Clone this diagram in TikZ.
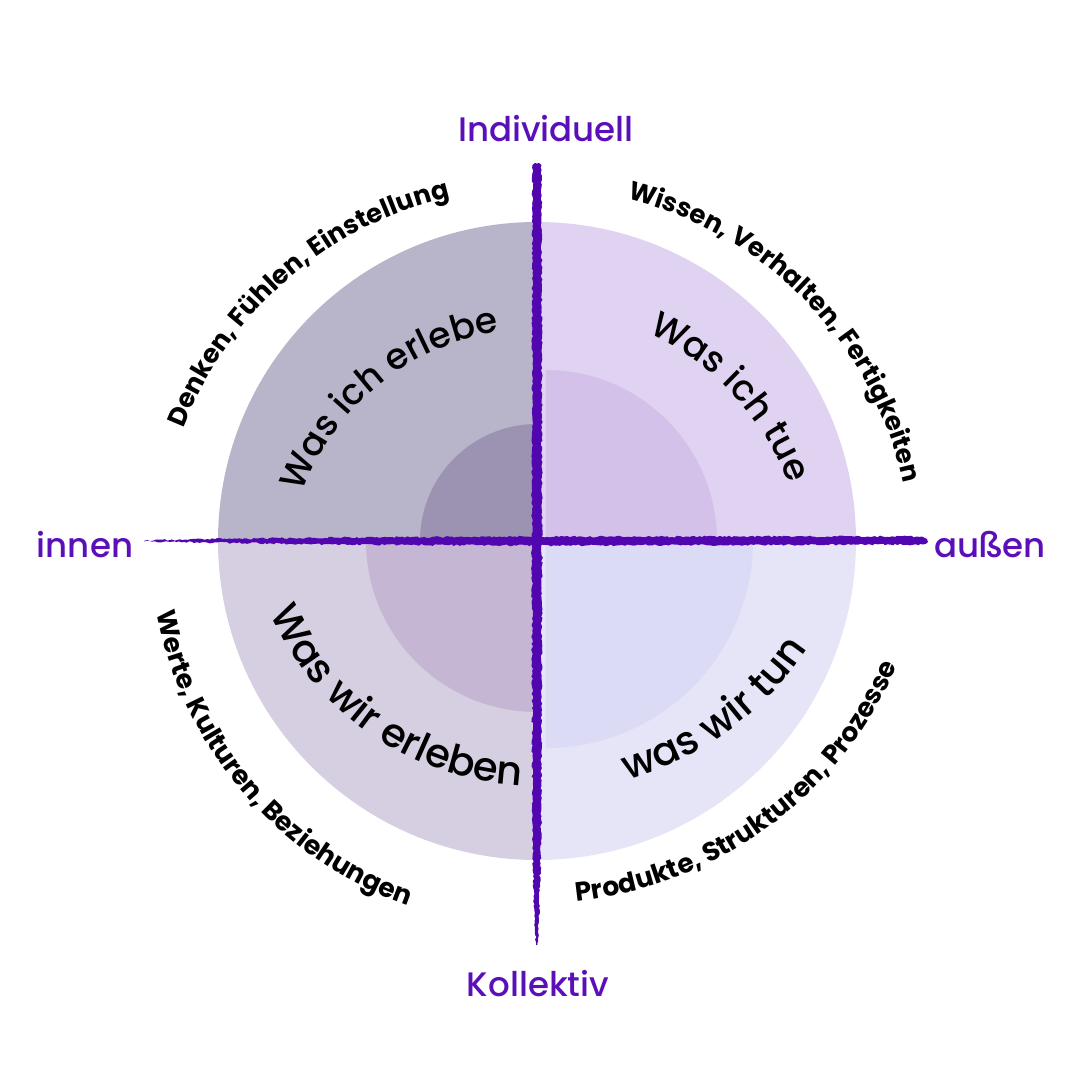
\documentclass[tikz,border=0pt]{standalone}
\usepackage{fontspec}
\setmainfont{Poppins}
\newfontfamily\boldf{Poppins Bold}
\newfontfamily\medf{Poppins Medium}
\usetikzlibrary{decorations.text,decorations.pathmorphing}
\definecolor{tlout}{HTML}{B8B5CB}
\definecolor{tlin}{HTML}{9B93B1}
\definecolor{trout}{HTML}{E0D3F1}
\definecolor{trin}{HTML}{D3C1EA}
\definecolor{blout}{HTML}{D6CFE1}
\definecolor{blin}{HTML}{C5B7D3}
\definecolor{brout}{HTML}{E5E5F7}
\definecolor{brin}{HTML}{DCDBF6}
\definecolor{axis}{HTML}{5A0FB8}
\definecolor{stroke}{HTML}{5206B0}
\tikzset{
  axislabel/.style={text=axis,font=\medf\fontsize{34}{40}\selectfont,inner sep=0pt},
  brush/.style={fill=stroke,decorate,decoration={random steps,segment length=2.5pt,amplitude=0.9pt}},
}
% clockwise arc text (tops outward): #1 centre, #2 radius, #3 mid angle, #4 text
\newcommand{\cwtext}[4]{%
  \path[shift={#1},decorate,decoration={text along path,text align=center,text={#4}}]
    ({#3+60}:#2) arc[start angle={#3+60},end angle={#3-60},radius=#2];}
% counter-clockwise arc text (tops inward)
\newcommand{\ccwtext}[4]{%
  \path[shift={#1},decorate,decoration={text along path,text align=center,text={#4}}]
    ({#3-60}:#2) arc[start angle={#3-60},end angle={#3+60},radius=#2];}
\begin{document}
\begin{tikzpicture}[x=1pt,y=1pt]
\useasboundingbox (-537,-539) rectangle (543,541);
% quadrants
\fill[tlout] (0,0) -- (90:319) arc[start angle=90,end angle=180,radius=319] -- cycle;
\fill[tlin] (0,0) -- (90:117) arc[start angle=90,end angle=180,radius=117] -- cycle;
\fill[trout] (0,0) -- (0:319) arc[start angle=0,end angle=90,radius=319] -- cycle;
\fill[trin] (9,0) -- ++(0:171) arc[start angle=0,end angle=90,radius=171] -- cycle;
\fill[blout] (0,0) -- (180:319) arc[start angle=180,end angle=270,radius=319] -- cycle;
\fill[blin] (0,0) -- (180:171) arc[start angle=180,end angle=270,radius=171] -- cycle;
\fill[brout] (0,0) -- (270:319) arc[start angle=270,end angle=360,radius=319] -- cycle;
\fill[brin] (9,0) -- ++(270:207) arc[start angle=270,end angle=360,radius=207] -- cycle;
% quadrant titles
\cwtext{(0,-38)}{250}{129.3}{|\medf\fontsize{36}{42}\selectfont|Was ich erlebe}
\cwtext{(0,-36)}{268}{42.9}{|\medf\fontsize{36}{42}\selectfont|Was ich tue}
\ccwtext{(0,48)}{293}{235.6}{|\medf\fontsize{40}{46}\selectfont|Was wir erleben}
\ccwtext{(0,74)}{326}{306.1}{|\medf\fontsize{40}{46}\selectfont|was wir tun}
% outer descriptions
\cwtext{(0,-26)}{380}{130.9}{|\boldf\fontsize{26}{30}\selectfont|Denken, Fühlen, Einstellung}
\cwtext{(0,-22)}{375}{44.2}{|\boldf\fontsize{26}{30}\selectfont|Wissen, Verhalten, Fertigkeiten}
\ccwtext{(0,0)}{387}{220.6}{|\boldf\fontsize{26.5}{30}\selectfont|Werte, Kulturen, Beziehungen}
\ccwtext{(0,30)}{392}{306.3}{|\boldf\fontsize{26.5}{30}\selectfont|Produkte, Strukturen, Prozesse}
% brush strokes
\path[brush] (-392,0.5) -- (-330,2) -- (-200,3.5) -- (0,4.5) -- (385,4.5)
  -- (390,2) -- (391,-1) -- (386,-3.5) -- (0,-4.5) -- (-200,-3.5) -- (-330,-1.5) -- (-392,-0.5) -- cycle;
\path[brush] (-4.5,376) -- (-2,378) -- (2,378) -- (4.5,376) -- (5,0) -- (4,-300)
  -- (2,-380) -- (0.5,-404) -- (-1,-404) -- (-2.5,-380) -- (-4.5,-300) -- (-5,0) -- cycle;
% axis labels
\node[axislabel] (ind) at (9,412) {Individuell};
\node[axislabel] (inn) at (-452,-4) {innen};
\node[axislabel] (aus) at (453,-4) {außen};
\node[axislabel] (kol) at (1,-443) {Kollektiv};
\end{tikzpicture}
\end{document}
